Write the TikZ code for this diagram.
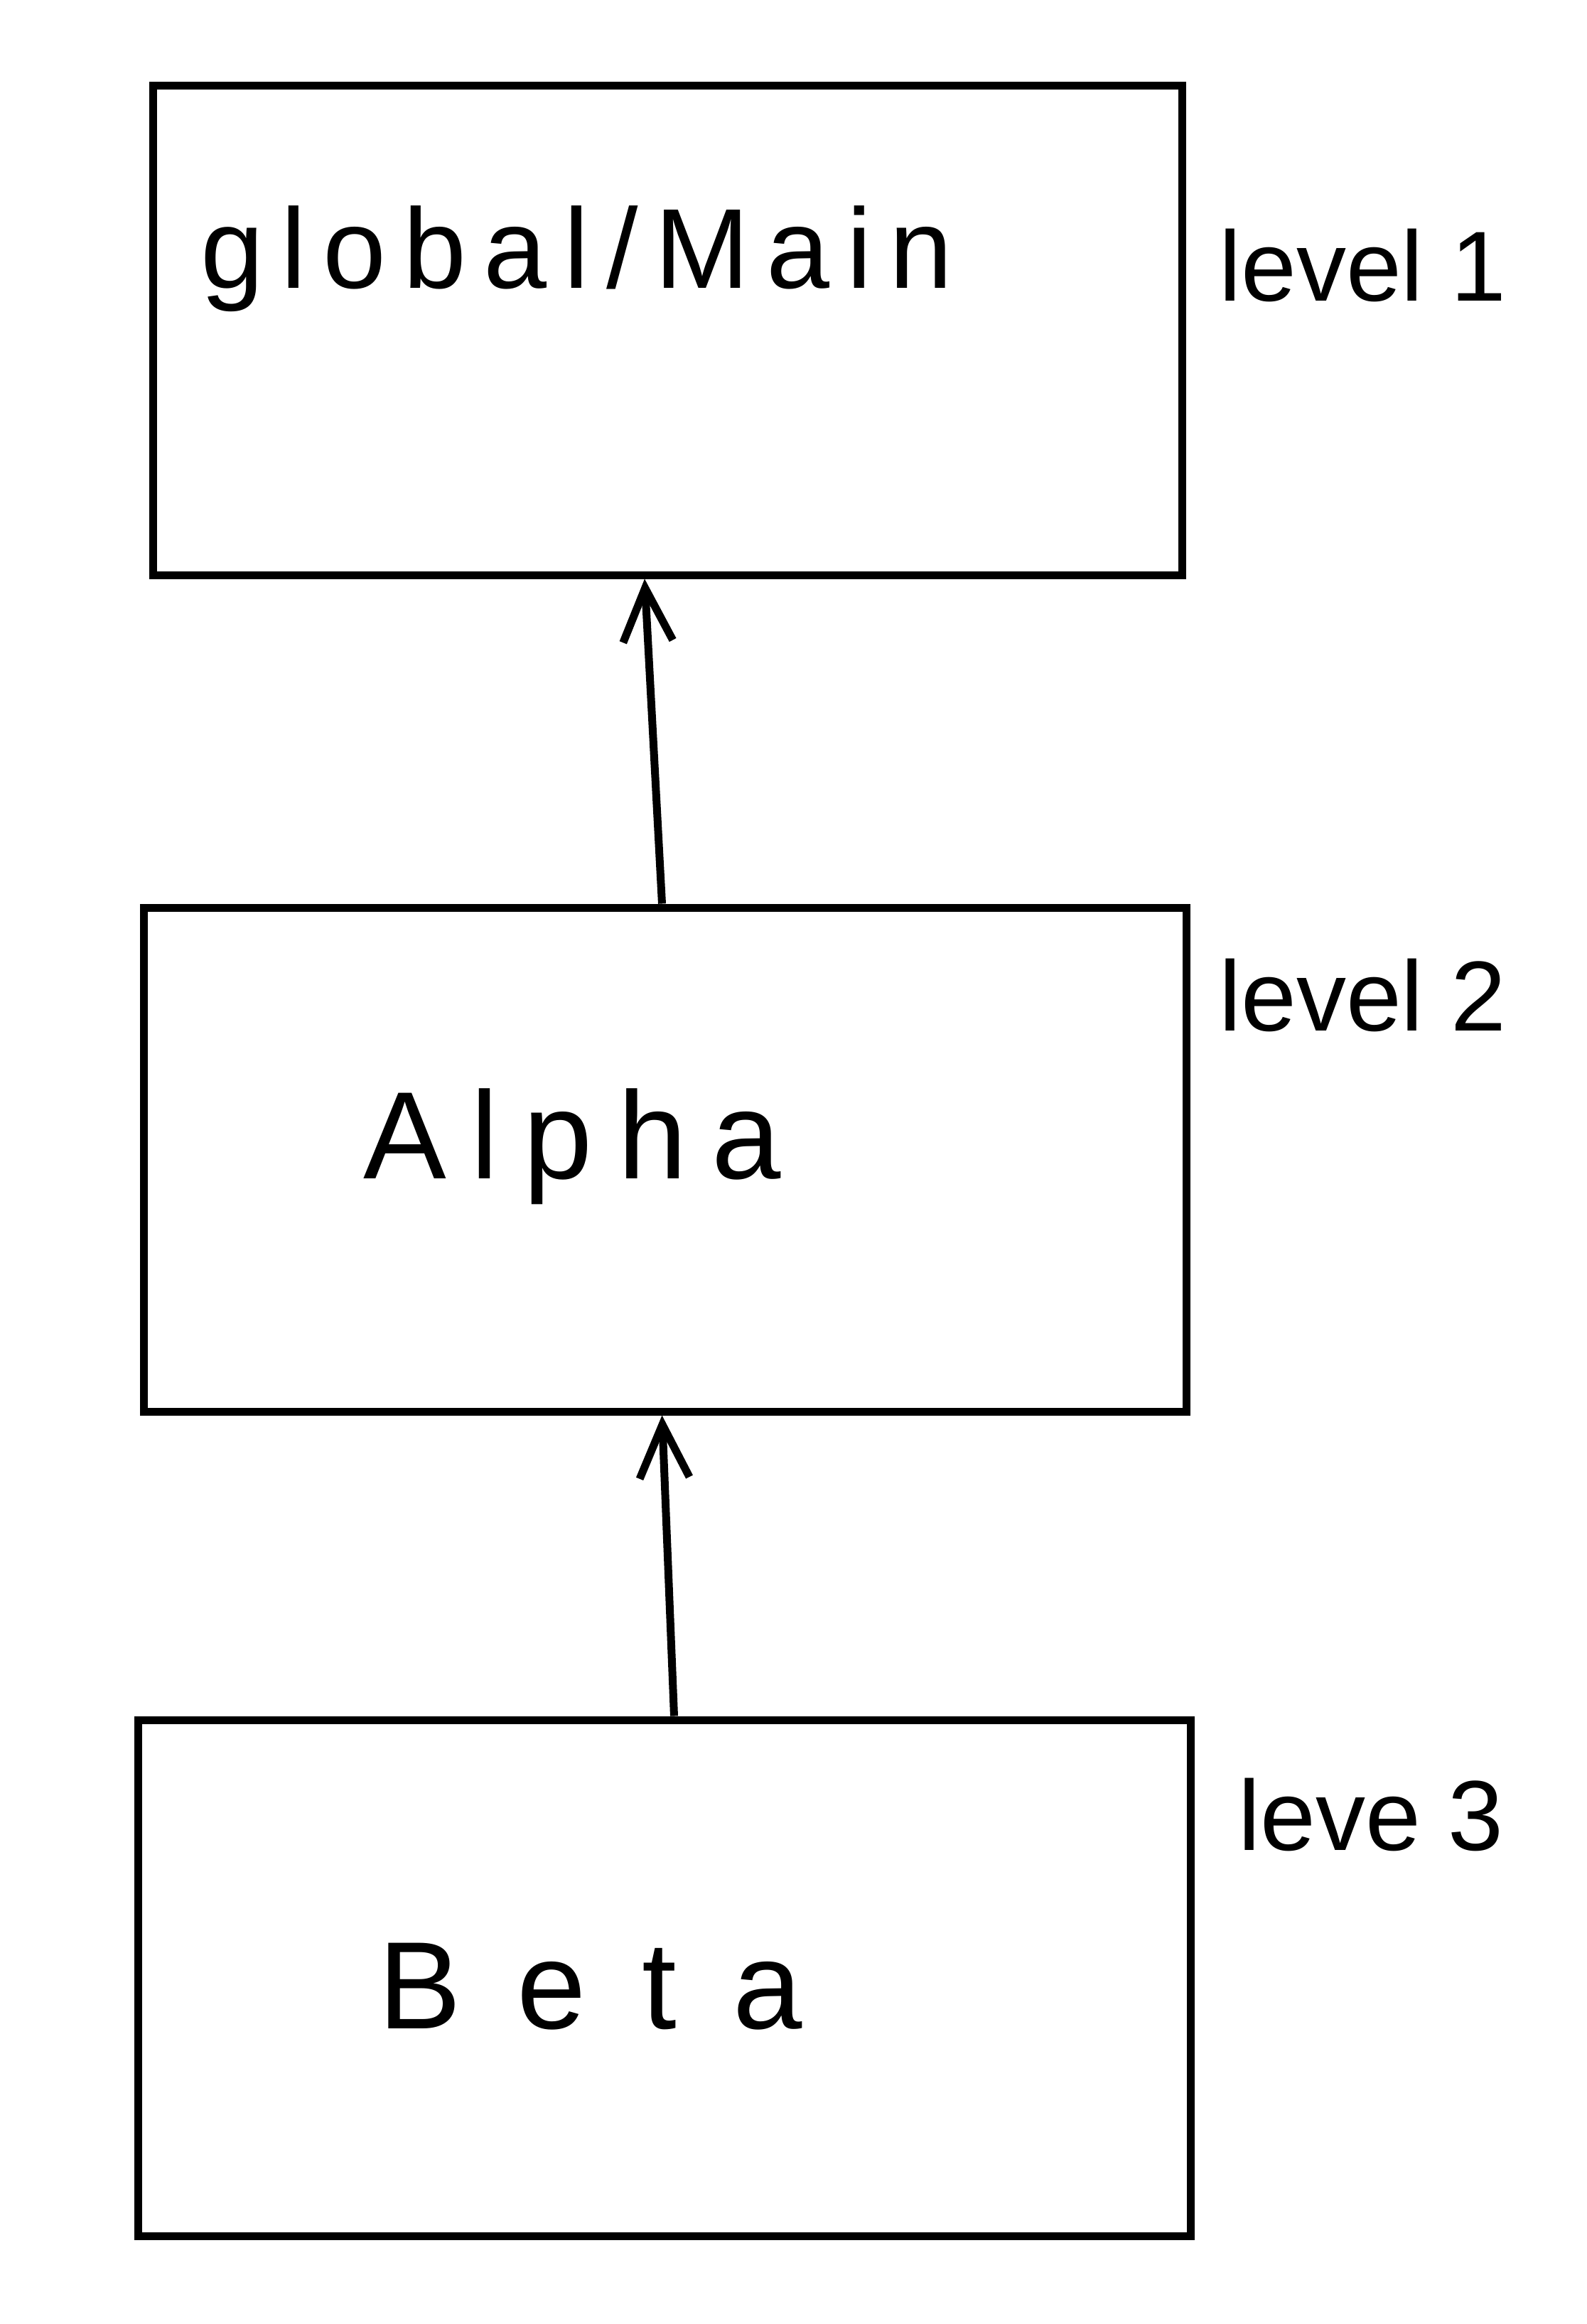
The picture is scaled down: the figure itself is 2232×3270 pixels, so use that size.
\documentclass[tikz,border=0pt]{standalone}
\usepackage{fontspec}
\setmainfont{Liberation Sans}
\newfontfamily\handA[LetterSpace=15]{Liberation Sans}
\newfontfamily\handB[LetterSpace=20]{Liberation Sans}
\newfontfamily\handC[LetterSpace=45]{Liberation Sans}
\usetikzlibrary{arrows.meta}
\begin{document}
\begin{tikzpicture}[x=1pt,y=-1pt,
  box/.style={draw,line width=11pt,inner sep=0pt},
  lbl/.style={anchor=base west,inner sep=0pt,font=\fontsize{140}{140}\selectfont},
  main/.style={anchor=base west,inner sep=0pt},
  conn/.style={line width=11pt,-{Straight Barb[length=75pt,width=70pt,line width=11pt]}}]
\useasboundingbox[fill=white] (0,0) rectangle (2232,3270);
\node[box,minimum width=1448pt,minimum height=688pt] (b1) at (939,465) {};
\node[box,minimum width=1467pt,minimum height=709pt] (b2) at (935.5,1631.5) {};
\node[box,minimum width=1481pt,minimum height=726pt] (b3) at (934.5,2783) {};
\node[main,font=\handA\fontsize{160}{160}\selectfont] (t1) at (282,405) {global/Main};
\node[main,font=\handB\fontsize{175}{175}\selectfont] (t2) at (511,1658) {Alpha};
\node[main,font=\handC\fontsize{175}{175}\selectfont] (t3) at (532,2854) {Beta};
\node[lbl] (l1) at (1715,423) {level 1};
\node[lbl] (l2) at (1715,1450) {level 2};
\node[lbl] (l3) at (1742,2603) {leve 3};
\draw[conn] ([xshift=-4pt]b2.north) -- ([xshift=-32pt]b1.south);
\draw[conn] ([xshift=14pt]b3.north) -- ([xshift=-4pt]b2.south);
\end{tikzpicture}
\end{document}
